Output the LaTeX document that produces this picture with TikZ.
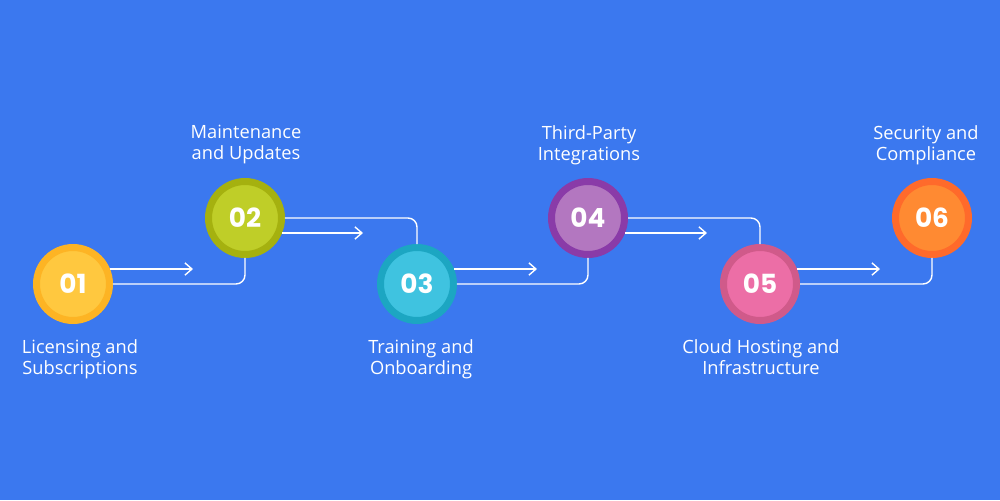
\documentclass[tikz,border=0pt]{standalone}
\usepackage{fontspec}
\setmainfont{Open Sans}
\newfontfamily\numfont{Poppins}
\usetikzlibrary{arrows.meta}
\definecolor{bg}{HTML}{3B78EF}
\definecolor{oA}{HTML}{FDB424}\definecolor{iA}{HTML}{FFC83F}
\definecolor{oB}{HTML}{A5B10F}\definecolor{iB}{HTML}{BFCE28}
\definecolor{oC}{HTML}{1CA6C2}\definecolor{iC}{HTML}{3FC3E0}
\definecolor{oD}{HTML}{8A3BA8}\definecolor{iD}{HTML}{B377C0}
\definecolor{oE}{HTML}{D05A8A}\definecolor{iE}{HTML}{EC6EA6}
\definecolor{oF}{HTML}{FF6A2B}\definecolor{iF}{HTML}{FF8A32}
\tikzset{
  stepcirc/.style={circle, inner sep=0pt, minimum size=1.46cm, line width=0.14cm, outer sep=0.07cm,
     text=white, font=\numfont\bfseries\fontsize{15}{17}\selectfont},
  label txt/.style={text=white, align=center, inner sep=0pt, anchor=north, font=\fontsize{10.4}{11.9}\selectfont},
  conn/.style={draw=white, line width=0.8pt, rounded corners=0.18cm},
  arr/.style={draw=white, line width=0.8pt, -{Straight Barb[length=4pt,width=7pt,line width=0.8pt]}},
}
\begin{document}
\begin{tikzpicture}[x=0.02cm,y=-0.02cm]
\fill[bg] (0,0) rectangle (1000,500);
\useasboundingbox (0,0) rectangle (1000,500);

\node[stepcirc, fill=iA, draw=oA] (c1) at (73,284) {01};
\node[stepcirc, fill=iB, draw=oB] (c2) at (245,218) {02};
\node[stepcirc, fill=iC, draw=oC] (c3) at (417,284) {03};
\node[stepcirc, fill=iD, draw=oD] (c4) at (588,218) {04};
\node[stepcirc, fill=iE, draw=oE] (c5) at (760,284) {05};
\node[stepcirc, fill=iF, draw=oF] (c6) at (932,218) {06};

\coordinate (t1) at (193,269);
\coordinate (t2) at (363,233);
\coordinate (t3) at (537,269);
\coordinate (t4) at (707,233);
\coordinate (t5) at (880,269);

\draw[arr] (c1.22) -- (c1.22 -| t1);
\draw[arr] (c2.-22) -- (c2.-22 -| t2);
\draw[arr] (c3.22) -- (c3.22 -| t3);
\draw[arr] (c4.-22) -- (c4.-22 -| t4);
\draw[arr] (c5.22) -- (c5.22 -| t5);

\draw[conn] (c1.east) -| (c2.south);
\draw[conn] (c2.east) -| (c3.north);
\draw[conn] (c3.east) -| (c4.south);
\draw[conn] (c4.east) -| (c5.north);
\draw[conn] (c5.east) -| (c6.south);

\node[label txt] (l1) at (80,339) {Licensing and\\Subscriptions};
\node[label txt] (l2) at (246,125) {Maintenance\\and Updates};
\node[label txt] (l3) at (421,339) {Training and\\Onboarding};
\node[label txt] (l4) at (589,125) {Third-Party\\Integrations};
\node[label txt] (l5) at (761,339) {Cloud Hosting and\\Infrastructure};
\node[label txt] (l6) at (926,125) {Security and\\Compliance};
\end{tikzpicture}
\end{document}
